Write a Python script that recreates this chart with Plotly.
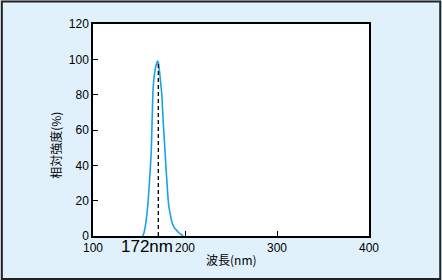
import plotly.graph_objects as go

# data
wavelength_nm = [154, 155.5, 157, 158.5, 160, 161.4, 162.5, 163.3, 164, 164.6, 165.2, 166, 167.2,
                 168.5, 170.3, 171.3, 172.3, 173.5, 174.8, 175.8, 176.8, 177.8, 178.5, 179.4,
                 180.2, 181.2, 182.4, 183.8, 185.5, 187.5, 189.5, 191, 193, 195.5, 198]
intensity_pct = [0, 2, 6, 12, 20, 31, 40, 48, 60, 72, 82, 88, 93,
                 96.5, 99, 97.5, 93, 87, 80, 70, 60, 52, 46, 38,
                 32, 24, 17, 12.8, 8.5, 5.5, 4, 3.2, 2, 1, 0]
peak_wl = [171, 171]
peak_line = [0, 99]
peak_label = "172nm"
x_ticks = [100, 200, 300, 400]
y_ticks = [0, 20, 40, 60, 80, 100, 120]

W, H = 442, 280
ML, MR, MT, MB = 92.5, 72.5, 23.5, 44
PW, PH = W - ML - MR, H - MT - MB

font_fam = "Liberation Sans, Arial, Noto Sans CJK JP, sans-serif"
cjk_fam = "Noto Sans CJK JP, Liberation Sans, sans-serif"

fig = go.Figure()
fig.add_trace(go.Scatter(x=wavelength_nm, y=intensity_pct, mode="lines",
                         line=dict(color="#1aa3e3", width=1.6, shape="spline", smoothing=0.5),
                         hoverinfo="skip"))
fig.add_trace(go.Scatter(x=peak_wl, y=peak_line, mode="lines",
                         line=dict(color="black", width=1.3, dash="4px,3px"), hoverinfo="skip"))

fig.update_layout(
    width=W, height=H,
    margin=dict(l=ML, r=MR, t=MT, b=MB, pad=0),
    paper_bgcolor="#e0f1fb", plot_bgcolor="white",
    showlegend=False,
    font=dict(family=font_fam, size=12, color="black"),
    xaxis=dict(range=[100, 400], tickvals=x_ticks, ticks="inside", ticklen=5,
               tickcolor="black", showline=True, linecolor="black", linewidth=1.5,
               mirror=True, showgrid=False, zeroline=False,
               tickfont=dict(size=12)),
    yaxis=dict(range=[0, 120], tickvals=y_ticks, ticks="inside", ticklen=5,
               tickcolor="black", showline=True, linecolor="black", linewidth=1.5,
               mirror=True, showgrid=False, zeroline=False,
               tickfont=dict(size=12)),
    annotations=[
        dict(text=peak_label, xref="x", yref="paper", x=158.7, y=-11 / PH,
             showarrow=False, xanchor="center", yanchor="middle",
             font=dict(size=17, family=font_fam)),
        dict(text="波長(nm)", xref="paper", yref="paper", x=0.5, y=-24 / PH,
             showarrow=False, xanchor="center", yanchor="middle",
             font=dict(size=12, family=cjk_fam)),
        dict(text="相対強度(%)", xref="paper", yref="paper", x=-37.5 / PW, y=(236 - 145) / PH,
             showarrow=False, xanchor="center", yanchor="middle", textangle=-90,
             font=dict(size=12, family=cjk_fam)),
    ],
    shapes=[
        dict(type="rect", xref="paper", yref="paper",
             x0=-(ML - 1) / PW, x1=1 + (MR - 1) / PW,
             y0=-(MB - 1) / PH, y1=1 + (MT - 1) / PH,
             line=dict(color="#222222", width=2), layer="above"),
    ],
)

fig.write_html("out.html")
